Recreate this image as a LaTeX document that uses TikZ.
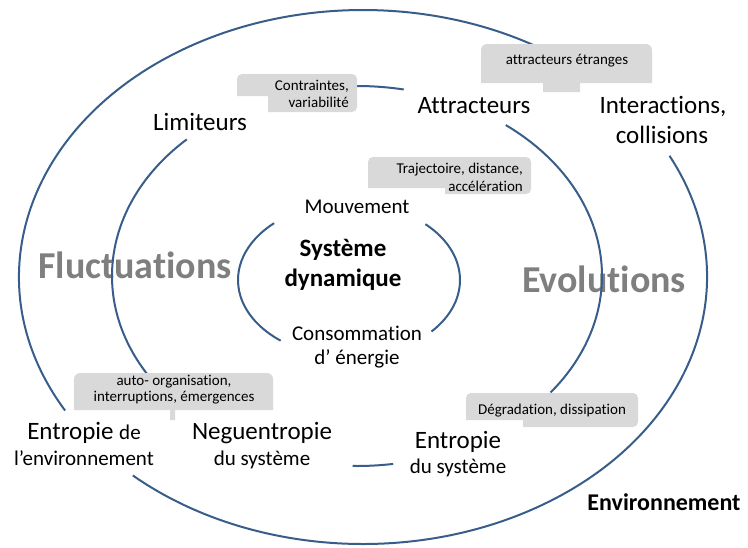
\documentclass[tikz,border=0pt]{standalone}
\usepackage{fontspec}
\setmainfont{Carlito}[Ligatures={NoCommon,NoRequired,NoContextual}]
\usepackage{xcolor}
\usepackage{tikz}

\definecolor{ringblue}{RGB}{56,93,138}
\definecolor{callgray}{RGB}{217,217,217}
\definecolor{wordgray}{RGB}{127,127,127}

\newcommand{\bigsz}{\fontsize{25}{30}\selectfont}
\newcommand{\midsz}{\fontsize{21}{26}\selectfont}
\newcommand{\smsz}{\fontsize{15}{18}\selectfont}
\newcommand{\hugesz}{\fontsize{38}{44}\selectfont}

\begin{document}
\begin{tikzpicture}[x=1pt, y=1pt,
        ring/.style={draw=ringblue, line width=2pt},
        callout/.style={fill=callgray},
        note/.style={font=\smsz, inner sep=0pt, anchor=base},
        bigword/.style={font=\bigsz, inner sep=0pt, anchor=base},
        midword/.style={font=\midsz, inner sep=0pt, anchor=base},
        theme/.style={font=\hugesz\bfseries, text=wordgray, inner sep=0pt, anchor=base}]

                \useasboundingbox (0,0) rectangle (748,-547);

                \node[theme] (fluct) at (135,-278) {Fluctuations};
                \node[theme] (evol) at (604,-292) {Evolutions};

                \draw[ring] (363,-277) ++(210:344pt and 267pt) arc[start angle=210, end angle=60, x radius=344pt, y radius=267pt];
                \draw[ring] (363,-277) ++(27:344pt and 267pt) arc[start angle=27, end angle=-132, x radius=344pt, y radius=267pt];

                \draw[ring] (357,-276) ++(134:245pt and 190pt) arc[start angle=134, end angle=211, x radius=245pt, y radius=190pt];
                \draw[ring] (357,-276) ++(90:245pt and 190pt) arc[start angle=90, end angle=79, x radius=245pt, y radius=190pt];
                \draw[ring] (357,-276) ++(52.6:245pt and 190pt) arc[start angle=52.6, end angle=-37.8, x radius=245pt, y radius=190pt];
                \draw[ring] (357,-276) ++(-91:245pt and 190pt) arc[start angle=-91, end angle=-81.5, x radius=245pt, y radius=190pt];

                \draw[ring] (349,-280) ++(132.4:111pt and 77pt) arc[start angle=132.4, end angle=232, x radius=111pt, y radius=77pt];
                \draw[ring] (349,-280) ++(46.5:111pt and 77pt) arc[start angle=46.5, end angle=-42, x radius=111pt, y radius=77pt];

                \fill[callout] (237,-96) [rounded corners=5pt] -- (237,-74) -- (357,-74) -- (357,-112) [sharp corners] -- (268,-112) -- (268,-96) -- cycle;
                \fill[callout] (481,-83) [rounded corners=6pt] -- (481,-44) -- (652,-44) [sharp corners] -- (652,-83) -- (580,-83) -- (580,-92) -- (543,-92) -- (543,-83) -- cycle;
                \fill[callout] (368,-188) [rounded corners=5pt] -- (368,-157) -- (531,-157) -- (531,-194) [sharp corners] -- (445,-194) -- (445,-188) -- cycle;
                \fill[callout] (74,-410) [rounded corners=6pt] -- (74,-373) -- (273,-373) [sharp corners] -- (273,-410) -- (175,-410) -- (175,-420) -- (170,-420) -- (170,-410) -- cycle;
                \fill[callout] (466,-420) [rounded corners=5pt] -- (466,-393) -- (638,-393) -- (638,-427) [sharp corners] -- (523,-427) -- (523,-420) -- cycle;

                \node[note, anchor=base east] (contr) at (349,-90) {Contraintes,};
                \node[note, anchor=base east] (varia) at (349,-107) {variabilité};
                \node[note] (etrang) at (567,-64) {attracteurs étranges};
                \node[note, anchor=base east] (traj) at (523,-173) {Trajectoire, distance,};
                \node[note, anchor=base east] (accel) at (523,-191) {accélération};
                \node[note] (autoorg) at (174,-385) {auto- organisation,};
                \node[note] (interr) at (174,-401) {interruptions, émergences};
                \node[note] (degrad) at (552,-414) {Dégradation, dissipation};

                \node[bigword] (lim) at (200,-130) {Limiteurs};
                \node[bigword] (attr) at (474,-113) {Attracteurs};
                \node[bigword] (inter) at (663,-113) {Interactions,};
                \node[bigword] (coll) at (662,-143) {collisions};

                \node[midword] (mouv) at (357,-213) {Mouvement};
                \node[bigword, font=\bigsz\bfseries] (syst) at (343,-256) {Système};
                \node[bigword, font=\bigsz\bfseries] (dyna) at (343,-286) {dynamique};
                \node[midword] (conso) at (357,-340) {Consommation};
                \node[midword] (energ) at (357,-364) {d’ énergie};

                \node[bigword] (entenv) at (84,-439) {Entropie {\midsz de}};
                \node[midword] (lenv) at (84,-465) {l’environnement};
                \node[bigword] (negu) at (262,-439) {Neguentropie};
                \node[midword] (dusys1) at (262,-465) {du système};
                \node[bigword] (entsys) at (458,-448) {Entropie};
                \node[midword] (dusys2) at (458,-473) {du système};

                \node[bigword, font=\fontsize{24}{28}\selectfont\bfseries] (env) at (664,-510) {Environnement};

\end{tikzpicture}
\end{document}
